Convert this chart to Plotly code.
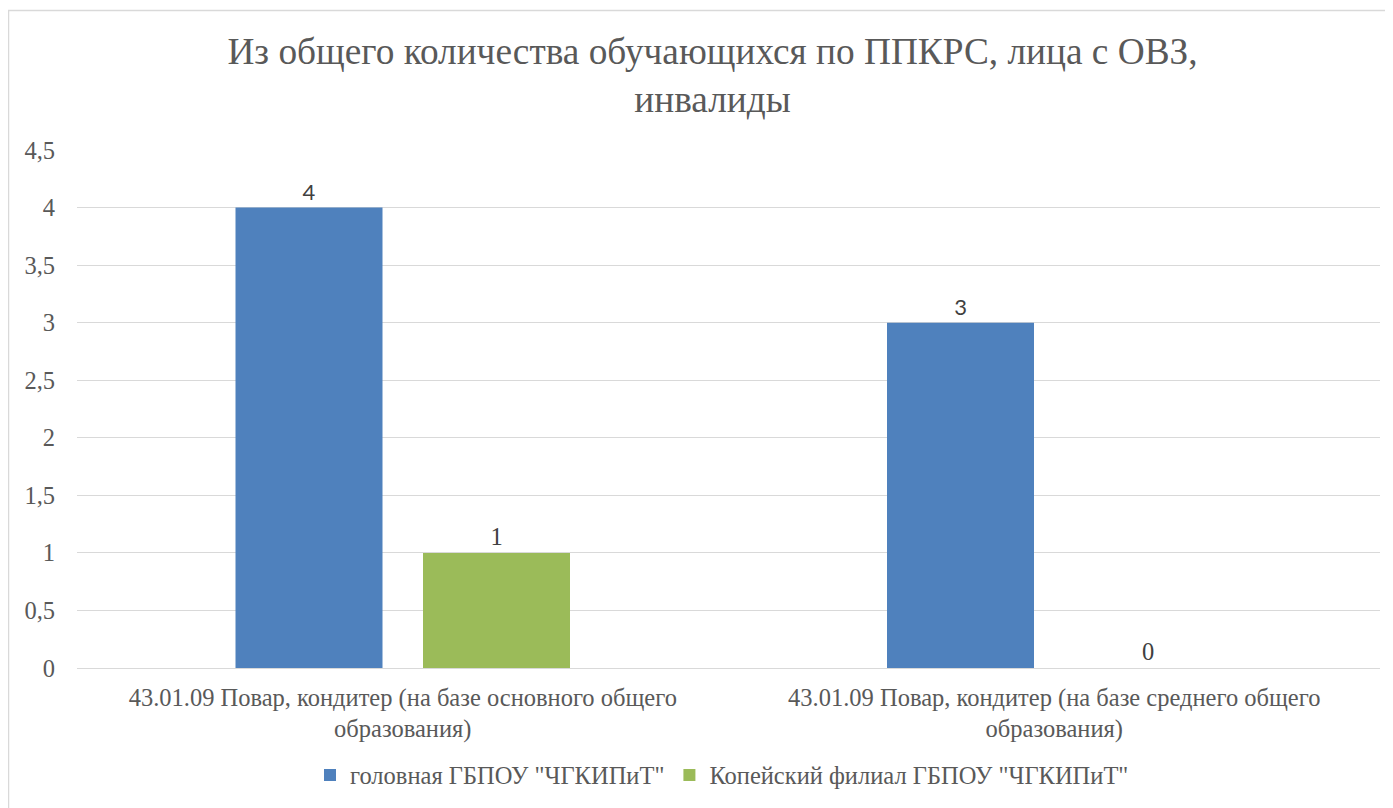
import plotly.graph_objects as go

categories = [
    "43.01.09 Повар, кондитер (на базе основного общего<br>образования)",
    "43.01.09 Повар, кондитер (на базе среднего общего<br>образования)",
]
series_names = ['головная ГБПОУ "ЧГКИПиТ"', 'Копейский филиал ГБПОУ "ЧГКИПиТ"']
head_values = [4, 3]
branch_values = [1, 0]
colors = ["#4F81BD", "#9BBB59"]
label_fonts = ["Lato", "Liberation Serif"]
label_sizes = [22, 24.5]

FONT = "Liberation Serif"
FS = 24.5

fig = go.Figure()
for name, vals, col, lf, ls in zip(series_names, [head_values, branch_values], colors, label_fonts, label_sizes):
    fig.add_trace(go.Bar(
        x=categories, y=vals, name=name, marker=dict(color=col, line=dict(width=0)),
        text=[str(v) for v in vals], textposition="outside", cliponaxis=False,
        textfont=dict(family=lf, size=ls, color="#404040"),
    ))

W, H = 1393, 808
OFF = 8
L, R, T, B = 69, 21, 142, 148
pw, ph = W - L - R, H - T - B

def px_x(p):
    return (p - OFF - L) / pw

def px_y(p):
    return (H - B - (p - OFF)) / ph

fig.update_layout(
    width=W, height=H,
    margin=dict(l=L, r=R, t=T, b=B),
    paper_bgcolor="white", plot_bgcolor="white",
    separators=", ",
    barmode="group", bargap=0.4244, bargroupgap=0.216,
    font=dict(family=FONT, color="#595959", size=FS),
    title=dict(
        text="Из общего количества обучающихся по ППКРС, лица с ОВЗ,<br>инвалиды",
        x=px_x(712.5), xanchor="center", xref="paper", y=1 - (64 - OFF) / H, yanchor="middle",
        font=dict(family=FONT, size=37.3, color="#595959"),
    ),
    xaxis=dict(showgrid=False, showline=False, ticks="", ticklabelstandoff=12,
               tickfont=dict(family=FONT, size=FS, color="#595959")),
    yaxis=dict(range=[0, 4.5], dtick=0.5, showgrid=True, gridcolor="#D9D9D9", gridwidth=1,
               zeroline=True, zerolinecolor="#D9D9D9", zerolinewidth=1, showline=False,
               ticklabelstandoff=21, tickfont=dict(family=FONT, size=FS, color="#595959")),
    legend=dict(orientation="h", x=px_x(722), xanchor="center", y=px_y(775), yanchor="middle",
                font=dict(family=FONT, size=FS, color="#595959"), itemsizing="constant",
                traceorder="normal"),
    shapes=[dict(type="rect", xref="paper", yref="paper", x0=px_x(8.5), x1=px_x(1500),
                 y0=px_y(900), y1=px_y(10.5), line=dict(color="#D9D9D9", width=1.5),
                 fillcolor="rgba(0,0,0,0)", layer="below")],
)

fig.write_html("out.html")
